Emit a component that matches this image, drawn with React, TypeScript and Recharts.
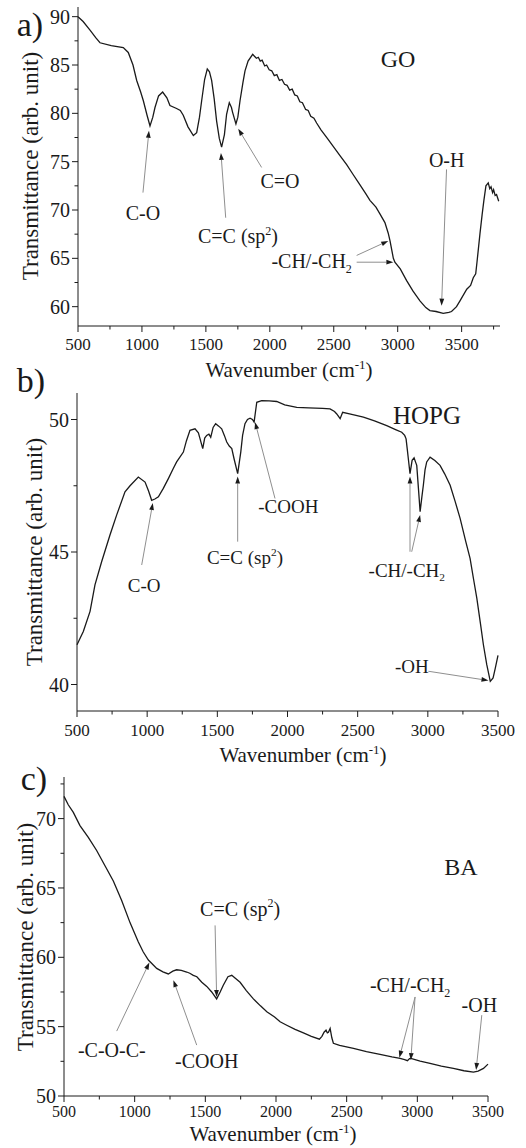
import React from 'react';
import { LineChart, Line, XAxis, YAxis, ReferenceLine, ReferenceDot } from 'recharts';

const SERIF = "'Liberation Serif', 'Times New Roman', serif";
const INK = '#1a1a1a';
const LEADER = '#8f8f8f';

// a) GO
const GO_WN = [
  500, 540, 594, 640, 672, 760, 854, 893, 930, 959, 990, 1011, 1040, 1063, 1085, 1102, 1130, 1162,
  1195, 1219, 1271, 1300, 1323, 1360, 1402, 1428, 1450, 1467, 1490, 1511, 1528, 1545, 1565, 1584,
  1605, 1623, 1645, 1662, 1683, 1700, 1709, 1735, 1750, 1767, 1790, 1806, 1830, 1866, 1880, 1895,
  1910, 1925, 1940, 1960, 1975, 1995, 2015, 2035, 2055, 2075, 2095, 2115, 2135, 2155, 2175, 2195,
  2215, 2235, 2255, 2280, 2300, 2320, 2345, 2366, 2400, 2450, 2500, 2550, 2601, 2650, 2700, 2750,
  2783, 2830, 2861, 2900, 2926, 2940, 2966, 2978, 3020, 3070, 3120, 3174, 3220, 3252, 3300, 3356,
  3400, 3421, 3460, 3487, 3540, 3570, 3591, 3610, 3620, 3643, 3660, 3674, 3690, 3708, 3720, 3730,
  3742, 3750, 3762, 3773, 3790,
];
const GO_T = [
  90.0, 89.5, 88.6, 87.8, 87.3, 87.0, 86.8, 86.3, 85.0, 83.4, 82.2, 81.3, 79.8, 78.7, 79.6, 80.6, 81.8, 82.2,
  81.6, 80.8, 80.5, 80.3, 79.8, 78.6, 77.7, 78.0, 79.6, 81.3, 83.5, 84.6, 84.3, 83.4, 81.5, 79.2,
  77.4, 76.5, 77.8, 79.9, 81.1, 80.6, 80.1, 78.9, 79.6, 81.3, 83.2, 84.4, 85.4, 86.1, 85.9, 85.7,
  85.8, 85.4, 85.5, 84.9, 85.0, 84.5, 84.4, 83.9, 84.0, 83.4, 83.5, 83.0, 82.9, 82.4, 82.5, 81.9,
  81.8, 81.2, 81.1, 80.4, 80.3, 79.7, 79.5, 79.0, 78.3, 77.4, 76.5, 75.6, 74.7, 73.7, 72.7, 71.7,
  71.0, 70.3, 69.6, 68.7, 67.6, 66.8, 65.0, 64.6, 63.9, 62.7, 61.6, 60.6, 59.9, 59.6, 59.5, 59.3,
  59.4, 59.5, 60.0, 60.6, 61.8, 62.2, 63.0, 63.4, 64.6, 67.5, 69.5, 71.0, 72.5, 72.8, 72.2, 72.4,
  71.8, 72.1, 71.5, 71.6, 70.9,
];
const GO_X_TICKS = [500, 750, 1000, 1250, 1500, 1750, 2000, 2250, 2500, 2750, 3000, 3250, 3500, 3750];
const GO_Y_TICKS = [60, 62.5, 65, 67.5, 70, 72.5, 75, 77.5, 80, 82.5, 85, 87.5, 90];
const GO_ARROWS = [
  { from: [1008, 71.8], to: [1055, 78.2] },
  { from: [1655, 69.2], to: [1618, 75.9] },
  { from: [1936, 74.4], to: [1753, 78.4] },
  { from: [3382, 74.2], to: [3343, 60.1] },
  { from: [2679, 65.3], to: [2926, 66.8] },
  { from: [2679, 64.6], to: [2966, 64.6] },
];
const GO_LABELS = [
  { text: 'C-O', at: [1008, 69.7] },
  { text: 'C=C (sp^2)', at: [1751, 67.3] },
  { text: 'C=O', at: [2079, 73.0] },
  { text: 'O-H', at: [3383, 75.2] },
  { text: '-CH/-CH_2', at: [2327, 64.7] },
];

// b) HOPG
const HOPG_WN = [
  500, 545, 593, 628, 676, 735, 783, 842, 878, 937, 985, 1010, 1032, 1055, 1080, 1115, 1151, 1186,
  1210, 1258, 1280, 1305, 1341, 1365, 1377, 1396, 1410, 1424, 1440, 1453, 1470, 1488, 1510, 1531,
  1550, 1567, 1585, 1603, 1620, 1645, 1667, 1680, 1697, 1715, 1733, 1750, 1762, 1781, 1816, 1870,
  1923, 1980, 2066, 2150, 2250, 2303, 2335, 2351, 2375, 2393, 2450, 2541, 2620, 2707, 2770, 2814,
  2835, 2845, 2853, 2861, 2873, 2888, 2902, 2912, 2921, 2933, 2945, 2958, 2968, 2980, 2992, 3016,
  3050, 3087, 3120, 3159, 3195, 3230, 3270, 3301, 3325, 3349, 3375, 3396, 3420, 3445, 3465, 3480, 3500,
];
const HOPG_T = [
  41.5, 42.0, 42.76, 43.76, 44.64, 45.64, 46.4, 47.27, 47.5, 47.83, 47.64, 47.3, 46.95, 47.0, 47.08, 47.4, 47.77, 48.15,
  48.4, 48.77, 49.2, 49.59, 49.65, 49.5, 49.27, 48.9, 49.3, 49.4, 49.45, 49.33, 49.7, 49.84, 49.75, 49.65,
  49.4, 49.15, 49.0, 48.9, 48.5, 47.96, 48.77, 49.4, 49.84, 50.0, 50.05, 50.0, 49.9, 50.65, 50.71, 50.7,
  50.68, 50.55, 50.46, 50.44, 50.42, 50.4, 50.3, 50.21, 50.03, 50.27, 50.2, 50.09, 49.95, 49.77, 49.62, 49.52,
  49.4, 49.27, 48.9, 48.52, 47.96, 48.46, 48.55, 48.4, 48.27, 47.4, 46.52, 47.1, 47.52, 48.1, 48.4, 48.58,
  48.45, 48.27, 47.95, 47.52, 46.9, 46.27, 45.4, 44.76, 44.0, 43.26, 42.3, 41.5, 40.75, 40.12, 40.25, 40.6, 41.1,
];
const HOPG_X_TICKS = [500, 750, 1000, 1250, 1500, 1750, 2000, 2250, 2500, 2750, 3000, 3250, 3500];
const HOPG_Y_TICKS = [40, 42.5, 45, 47.5, 50];
const HOPG_ARROWS = [
  { from: [961, 44.51], to: [1040, 46.85] },
  { from: [1645, 45.39], to: [1645, 47.85] },
  { from: [1911, 47.02], to: [1769, 49.9] },
  { from: [2873, 45.01], to: [2873, 47.85] },
  { from: [2885, 45.01], to: [2945, 46.4] },
  { from: [3004, 40.5], to: [3432, 40.15] },
];
const HOPG_LABELS = [
  { text: 'C-O', at: [978, 43.76] },
  { text: 'C=C (sp^2)', at: [1697, 44.79] },
  { text: '-COOH', at: [2006, 46.73] },
  { text: '-CH/-CH_2', at: [2850, 44.32] },
  { text: '-OH', at: [2886, 40.69] },
];

// c) BA
const BA_WN = [
  500, 530, 566, 613, 672, 731, 790, 849, 908, 967, 1026, 1060, 1097, 1156, 1200, 1238, 1270, 1297,
  1330, 1368, 1390, 1415, 1440, 1475, 1510, 1545, 1580, 1605, 1627, 1660, 1687, 1710, 1746, 1790,
  1840, 1890, 1935, 1990, 2029, 2076, 2135, 2194, 2250, 2307, 2325, 2340, 2354, 2363, 2371, 2383,
  2395, 2406, 2450, 2548, 2640, 2736, 2820, 2878, 2910, 2930, 2945, 2954, 3020, 3090, 3170, 3255,
  3330, 3397, 3430, 3468, 3500,
];
const BA_T = [
  71.6, 71.0, 70.45, 69.5, 68.65, 67.7, 66.6, 65.5, 64.1, 62.5, 61.1, 60.4, 59.8, 59.2, 58.95, 58.8, 59.0, 59.1,
  59.05, 58.94, 58.85, 58.7, 58.6, 58.2, 57.9, 57.5, 57.0, 57.5, 57.99, 58.6, 58.7, 58.5, 58.2, 57.6,
  57.0, 56.5, 56.07, 55.7, 55.35, 55.1, 54.8, 54.55, 54.3, 54.1, 54.3, 54.6, 54.75, 54.55, 54.6, 54.87,
  54.2, 53.8, 53.65, 53.43, 53.2, 53.0, 52.82, 52.71, 52.63, 52.55, 52.7, 52.71, 52.52, 52.35, 52.15, 51.99,
  51.82, 51.72, 51.8, 51.99, 52.3,
];
const BA_X_TICKS = [500, 750, 1000, 1250, 1500, 1750, 2000, 2250, 2500, 2750, 3000, 3250, 3500];
const BA_Y_TICKS = [50, 52.5, 55, 57.5, 60, 62.5, 65, 67.5, 70, 72.5];
const BA_ARROWS = [
  { from: [873, 54.68], to: [1104, 59.62] },
  { from: [1439, 53.67], to: [1274, 58.35] },
  { from: [1569, 62.3], to: [1580, 57.14] },
  { from: [2984, 57.14], to: [2873, 52.76] },
  { from: [2984, 57.14], to: [2954, 52.59] },
  { from: [3456, 55.83], to: [3416, 51.87] },
];
const BA_LABELS = [
  { text: '-C-O-C-', at: [838, 53.3] },
  { text: '-COOH', at: [1510, 52.5] },
  { text: 'C=C (sp^2)', at: [1746, 63.5] },
  { text: '-CH/-CH_2', at: [2949, 58.0] },
  { text: '-OH', at: [3439, 56.55] },
];

const zip = (wn: number[], t: number[]) => wn.map((w, i) => ({ wn: w, t: t[i] }));

// "x^2" -> superscript, "x_2" -> subscript
function RichLabel({ x, y, text, size }: { x: number; y: number; text: string; size: number }) {
  const m = text.match(/^(.*)([\^_])(\d)(.*)$/);
  const base = y + size * 0.35;
  if (!m) {
    return (
      <text x={x} y={base} textAnchor="middle" fontSize={size} fontFamily={SERIF} fill={INK}>
        {text}
      </text>
    );
  }
  const shift = m[2] === '^' ? -0.42 * size : 0.25 * size;
  return (
    <text x={x} y={base} textAnchor="middle" fontSize={size} fontFamily={SERIF} fill={INK}>
      {m[1]}
      <tspan dy={shift} fontSize={size * 0.6}>{m[3]}</tspan>
      <tspan dy={-shift}>{m[4]}</tspan>
    </text>
  );
}

const arrowShape = (p: any) => {
  const { x1, y1, x2, y2 } = p;
  const dx = x2 - x1;
  const dy = y2 - y1;
  const len = Math.hypot(dx, dy) || 1;
  const ux = dx / len;
  const uy = dy / len;
  const L = 7;
  const W = 2.4;
  const bx = x2 - ux * L;
  const by = y2 - uy * L;
  return (
    <g>
      <line x1={x1} y1={y1} x2={bx} y2={by} stroke={LEADER} strokeWidth={1} />
      <polygon
        points={`${x2},${y2} ${bx - uy * W},${by + ux * W} ${bx + uy * W},${by - ux * W}`}
        fill={INK}
      />
    </g>
  );
};

function XTick(props: any) {
  const { x, y, payload, fontSize, labelDy } = props;
  const major = payload.value % 500 === 0;
  return (
    <g>
      <line x1={x} y1={y} x2={x} y2={y + (major ? 6 : 3.5)} stroke={INK} />
      {major && (
        <text x={x} y={y + labelDy} textAnchor="middle" fontSize={fontSize} fontFamily={SERIF} fill={INK}>
          {payload.value}
        </text>
      )}
    </g>
  );
}

function YTick(props: any) {
  const { x, y, payload } = props;
  const major = payload.value % 5 === 0;
  return (
    <g>
      <line x1={x} y1={y} x2={x - (major ? 6 : 3.5)} y2={y} stroke={INK} />
      {major && (
        <text x={x - 8} y={y + 7} textAnchor="end" fontSize={20} fontFamily={SERIF} fill={INK}>
          {payload.value}
        </text>
      )}
    </g>
  );
}

type Note = { from: number[]; to: number[] };
type Lbl = { text: string; at: number[] };

function Spectrum(props: {
  data: { wn: number; t: number }[];
  height: number;
  margin: { top: number; right: number; bottom: number; left: number };
  yWidth: number;
  xHeight: number;
  xDomain: [number, number];
  yDomain: [number, number];
  xTicks: number[];
  yTicks: number[];
  xFont: number;
  xLabelDy: number;
  arrows: Note[];
  labels: Lbl[];
  labelSize: number;
}) {
  const p = props;
  return (
    <LineChart width={526} height={p.height} data={p.data} margin={p.margin}>
      <XAxis
        type="number"
        dataKey="wn"
        domain={p.xDomain}
        ticks={p.xTicks}
        interval={0}
        tickSize={0}
        tickMargin={0}
        tickLine={false}
        height={p.xHeight}
        axisLine={{ stroke: INK }}
        tick={(t: any) => <XTick {...t} fontSize={p.xFont} labelDy={p.xLabelDy} />}
      />
      <YAxis
        type="number"
        domain={p.yDomain}
        ticks={p.yTicks}
        interval={0}
        width={p.yWidth}
        tickSize={0}
        tickMargin={0}
        tickLine={false}
        axisLine={{ stroke: INK }}
        tick={(t: any) => <YTick {...t} />}
      />
      <Line
        type="linear"
        dataKey="t"
        stroke={INK}
        strokeWidth={1.3}
        dot={false}
        isAnimationActive={false}
      />
      {p.arrows.map((a, i) => (
        <ReferenceLine
          key={`a${i}`}
          segment={[
            { x: a.from[0], y: a.from[1] },
            { x: a.to[0], y: a.to[1] },
          ]}
          shape={arrowShape}
        />
      ))}
      {p.labels.map((l, i) => (
        <ReferenceDot
          key={`l${i}`}
          x={l.at[0]}
          y={l.at[1]}
          r={1}
          shape={(d: any) => <RichLabel x={d.cx} y={d.cy} text={l.text} size={p.labelSize} />}
        />
      ))}
    </LineChart>
  );
}

function XTitle({ x, y }: { x: number; y: number }) {
  return (
    <text x={x} y={y} textAnchor="middle" fontSize={21} fontFamily={SERIF} fill={INK}>
      Wavenumber (cm
      <tspan dy={-8} fontSize={13}>-1</tspan>
      <tspan dy={8}>)</tspan>
    </text>
  );
}

function YTitle({ x, y }: { x: number; y: number }) {
  return (
    <text
      x={x}
      y={y}
      transform={`rotate(-90, ${x}, ${y})`}
      textAnchor="middle"
      dominantBaseline="central"
      fontSize={23}
      fontFamily={SERIF}
      fill={INK}
    >
      Transmittance (arb. unit)
    </text>
  );
}

export default function App() {
  return (
    <div style={{ position: 'absolute', left: 0, top: 0, width: 526, height: 1148, background: '#fff' }}>
      <div style={{ position: 'absolute', left: 0, top: 0 }}>
        <Spectrum
          data={zip(GO_WN, GO_T)}
          height={380}
          margin={{ top: 7, right: 26, bottom: 0, left: 0 }}
          yWidth={78}
          xHeight={54}
          xDomain={[500, 3800]}
          yDomain={[58, 91]}
          xTicks={GO_X_TICKS}
          yTicks={GO_Y_TICKS}
          xFont={17}
          xLabelDy={24}
          arrows={GO_ARROWS}
          labels={GO_LABELS}
          labelSize={20}
        />
      </div>
      <div style={{ position: 'absolute', left: 0, top: 380 }}>
        <Spectrum
          data={zip(HOPG_WN, HOPG_T)}
          height={386}
          margin={{ top: 13, right: 28, bottom: 1, left: 0 }}
          yWidth={77}
          xHeight={54}
          xDomain={[500, 3500]}
          yDomain={[39, 51]}
          xTicks={HOPG_X_TICKS}
          yTicks={HOPG_Y_TICKS}
          xFont={17}
          xLabelDy={25}
          arrows={HOPG_ARROWS}
          labels={HOPG_LABELS}
          labelSize={19}
        />
      </div>
      <div style={{ position: 'absolute', left: 0, top: 766 }}>
        <Spectrum
          data={zip(BA_WN, BA_T)}
          height={382}
          margin={{ top: 11, right: 38, bottom: 2, left: 0 }}
          yWidth={64}
          xHeight={50}
          xDomain={[500, 3500]}
          yDomain={[50, 73]}
          xTicks={BA_X_TICKS}
          yTicks={BA_Y_TICKS}
          xFont={16}
          xLabelDy={21}
          arrows={BA_ARROWS}
          labels={BA_LABELS}
          labelSize={20}
        />
      </div>
      <svg
        width={526}
        height={1148}
        style={{ position: 'absolute', left: 0, top: 0, pointerEvents: 'none' }}
      >
        <text x={30} y={36} textAnchor="middle" fontSize={34} fontFamily={SERIF} fill={INK}>a)</text>
        <text x={31} y={392} textAnchor="middle" fontSize={34} fontFamily={SERIF} fill={INK}>b)</text>
        <text x={34} y={790} textAnchor="middle" fontSize={34} fontFamily={SERIF} fill={INK}>c)</text>

        <text x={398} y={67} textAnchor="middle" fontSize={24} fontFamily={SERIF} fill={INK}>GO</text>
        <text x={427} y={424} textAnchor="middle" fontSize={25} fontFamily={SERIF} fill={INK}>HOPG</text>
        <text x={461} y={875} textAnchor="middle" fontSize={24} fontFamily={SERIF} fill={INK}>BA</text>

        <YTitle x={30} y={166} />
        <YTitle x={34} y={552} />
        <YTitle x={25} y={937} />

        <XTitle x={289} y={377} />
        <XTitle x={303} y={762} />
        <XTitle x={273} y={1141} />
      </svg>
    </div>
  );
}
